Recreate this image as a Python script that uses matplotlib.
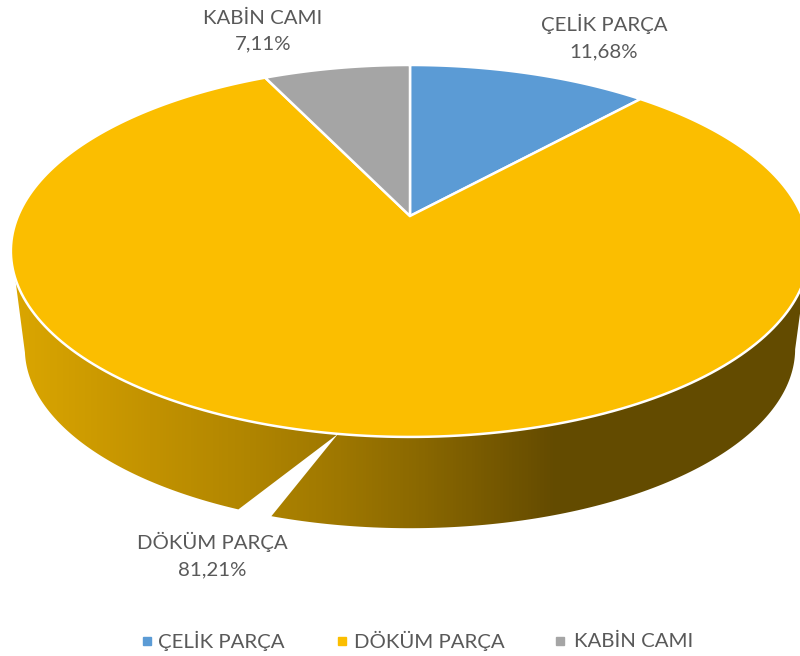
#!/usr/bin/env python3
"""3D-look pie chart, drawn on a pixel-sized axes through a small perspective map."""
import matplotlib

matplotlib.use("Agg")
import matplotlib.pyplot as plt
import numpy as np
from matplotlib.colors import LinearSegmentedColormap
from matplotlib.patches import Polygon

plt.rcParams["font.family"] = ["Lato", "DejaVu Sans"]

categories = ["ÇELİK PARÇA", "DÖKÜM PARÇA", "KABİN CAMI"]
shares = [11.68, 81.21, 7.11]
slice_colors = ["#5B9BD5", "#FBBE00", "#A5A5A5"]
label_xy = [(604, 37), (212, 555), (263, 31)]
legend_marker_x = [147, 342, 560]
legend_text_x = [158, 354, 574]

TEXT = "#595959"
# pie geometry, in pixels
CX, CY = 410, 216
RX, RY = 392, 179.4
TILT = 0.188
DEPTH = 99
LOWER = 0.965
# the side wall is split at the front, top and bottom rims split at different angles
SPLIT_TOP, SPLIT_LEFT, SPLIT_RIGHT = 188.6, 202.0, 197.5


def top_rim(deg, r=1.0):
    t = np.radians(deg)
    x, y = r * np.sin(t), -r * np.cos(t)
    d = 1 - TILT * y
    return np.column_stack([CX + RX * x / d, CY + RY * y / d])


def bottom_rim(deg):
    p = top_rim(deg) - [CX, CY]
    return p * LOWER + [CX, CY + DEPTH]


fig = plt.figure(figsize=(8, 6.56), dpi=100, facecolor="white")
ax = fig.add_axes([0, 0, 1, 1])
ax.set_axis_off()

# side walls share one horizontal shading
shade = LinearSegmentedColormap.from_list(
    "wall",
    [
        (0.0, "#DDA800"),
        (150 / 800, "#C29200"),
        (250 / 800, "#B08500"),
        (340 / 800, "#9E7700"),
        (420 / 800, "#8A6800"),
        (500 / 800, "#745700"),
        (555 / 800, "#644B00"),
        (1.0, "#634B00"),
    ],
)
grad = np.linspace(0, 1, 800).reshape(1, -1)

left_wall = np.vstack([
    top_rim(np.linspace(251, SPLIT_TOP, 120)),
    bottom_rim(np.linspace(SPLIT_LEFT, 258, 120)),
])
right_wall = np.vstack([
    top_rim(np.linspace(SPLIT_TOP, 109, 120)),
    bottom_rim(np.linspace(101, SPLIT_RIGHT, 120)),
])
for pts in (left_wall, right_wall):
    im = ax.imshow(grad, cmap=shade, extent=(0, 800, 656, 0), aspect="auto", zorder=1)
    im.set_clip_path(Polygon(pts, closed=True, transform=ax.transData))

# top face, clockwise from twelve o'clock
start = 0.0
for share, color in zip(shares, slice_colors):
    end = start + share / sum(shares) * 360
    rim = top_rim(np.linspace(start, end, 240))
    ax.add_patch(Polygon(np.vstack([[CX, CY], rim]), closed=True, facecolor=color,
                         edgecolor="white", linewidth=1.8, zorder=2))
    start = end

for name, share, (x, y) in zip(categories, shares, label_xy):
    pct = f"{share:.2f}%".replace(".", ",")
    ax.text(x, y, f"{name}\n{pct}", ha="center", va="center", fontsize=14.7,
            color=TEXT, linespacing=1.65, zorder=3)

for name, color, mx, tx in zip(categories, slice_colors, legend_marker_x, legend_text_x):
    ax.plot([mx], [641], marker="s", markersize=5.5, color=color, linestyle="none", zorder=3)
    ax.text(tx, 641, name, ha="left", va="center", fontsize=14.7, color=TEXT, zorder=3)

ax.set_xlim(0, 800)
ax.set_ylim(656, 0)
fig.savefig("out.png", dpi=100, facecolor="white")
